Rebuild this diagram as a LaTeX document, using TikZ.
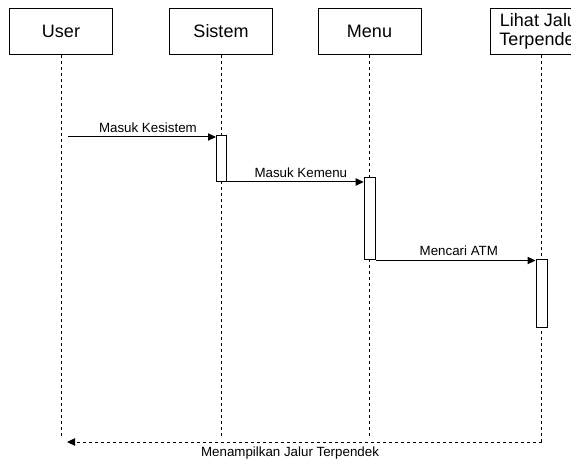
\documentclass[tikz,border=0pt]{standalone}
\usepackage{fontspec}
\setmainfont{Liberation Sans}
\usetikzlibrary{arrows.meta}
\tikzset{actor/.style={
    draw, thick, fill=white, line width=.75pt,
    minimum width=77.25pt, minimum height=34.5pt,
    inner sep=0pt, align=center, anchor=north,
    font=\fontsize{13.5}{14.25}\selectfont
  },
  lifeline/.style={draw, line width=.7pt, dash pattern=on 2.25pt off 2.25pt},
  activation/.style={
    draw, fill=white, line width=.75pt,
    inner sep=0pt, anchor=north, minimum width=#1
  },
  activation/.default={8.25pt},
  msg/.style={line width=.75pt, -{Triangle[length=6pt,width=5.5pt]}},
  reply/.style={msg, dash pattern=on 2.25pt off 2.25pt},
  msglabel/.style={font=\fontsize{10}{12}\selectfont, inner sep=3pt}
}
\begin{document}
\begin{tikzpicture}[x=.75pt, y=-.75pt]
    \useasboundingbox (0,0) rectangle (571,463);
    \clip (0,0) rectangle (571,463);

    \node[actor] (user) at (61,8) {User};
    \node[actor] (sistem) at (221,8) {Sistem};
    \node[actor] (menu) at (369.5,8) {Menu};
    \node[actor] (lihat) at (541.5,8) {Lihat Jalur\\Terpendek};

    \coordinate (bottom) at (0,438);
    \coordinate (ret) at (0,442);
    \coordinate (m1) at (68,137);
    \coordinate (retend) at (67,442);

    \draw[lifeline] (user.south) -- (user.south |- bottom)
      (sistem.south) -- (sistem.south |- bottom)
      (menu.south) -- (menu.south |- bottom)
      (lihat.south) -- (lihat.south |- ret);

    \node[activation=7.5pt, minimum height=34.5pt] (act1) at (221.5,135) {};
    \node[activation, minimum height=61.5pt] (act2) at (369.7,177.5) {};
    \node[activation, minimum height=51pt] (act3) at (541.5,259) {};

    \draw[msg] (m1) -- node[msglabel, above, pos=.54] {Masuk Kesistem} (m1 -| act1.west);
    \draw[msg] (act1.south east) -- node[msglabel, above, pos=.54] {Masuk Kemenu} (act1.south east -| act2.west);
    \draw[msg] (act2.south east) -- node[msglabel, above, pos=.52] {Mencari ATM} (act2.south east -| act3.west);
    \draw[reply] (lihat.south |- ret) -- node[msglabel, below, pos=.53] {Menampilkan Jalur Terpendek} (retend);
\end{tikzpicture}
\end{document}
